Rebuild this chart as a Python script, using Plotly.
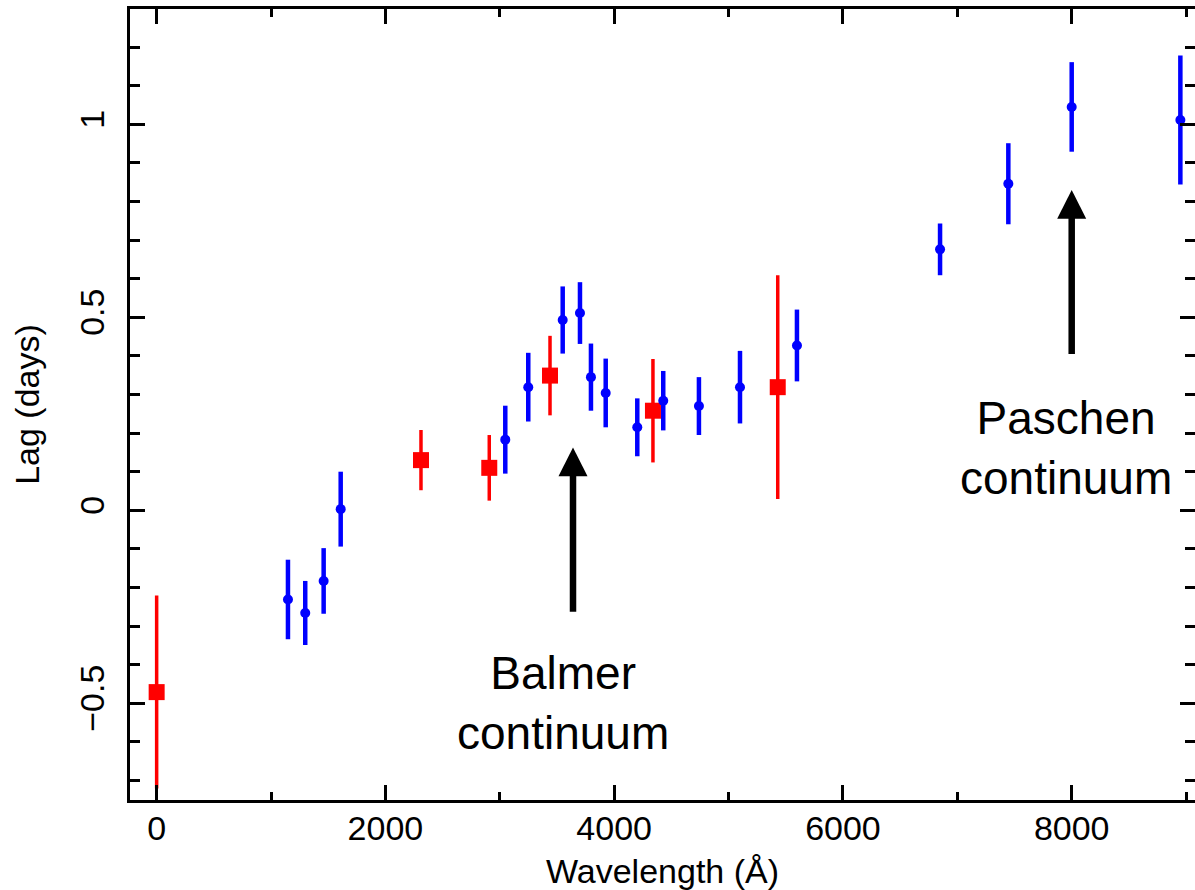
import plotly.graph_objects as go

# ---------------- data ----------------
red_wavelength = [0, 2311, 2908, 3439, 4339, 5430]
red_lag = [-0.471, 0.130, 0.110, 0.349, 0.258, 0.319]
red_err = [0.25, 0.078, 0.085, 0.103, 0.134, 0.290]

blue_wavelength = [1148, 1299, 1460, 1609, 3048, 3249, 3550, 3701, 3797, 3926,
                   4202, 4429, 4741, 5100, 5598, 6849, 7446, 8000, 8950]
blue_lag = [-0.231, -0.266, -0.183, 0.003, 0.183, 0.319, 0.493, 0.511, 0.345, 0.304,
            0.215, 0.284, 0.270, 0.319, 0.427, 0.676, 0.846, 1.045, 1.011]
blue_err = [0.103, 0.083, 0.085, 0.097, 0.088, 0.089, 0.087, 0.080, 0.087, 0.089,
            0.075, 0.077, 0.075, 0.094, 0.093, 0.067, 0.105, 0.116, 0.167]

x_range = [-233, 9078]
y_range = [-0.7505, 1.2987]

# annotation arrows: x, tail y, tip y
balmer_arrow = (3640, -0.263, 0.163)
paschen_arrow = (8000, 0.405, 0.830)
head_len = 0.0745      # in lag units
head_half = 127        # in wavelength units

balmer_text = (3552, -0.500, "Balmer<br>continuum")
paschen_text = (7950, 0.162, "Paschen<br>continuum")

FONT = "Liberation Sans, Arial, Helvetica, sans-serif"

fig = go.Figure()

fig.add_trace(go.Scatter(
    x=red_wavelength, y=red_lag, mode="markers",
    marker=dict(symbol="square", size=16, color="#ff0000"),
    error_y=dict(type="data", array=red_err, visible=True, color="#ff0000",
                 thickness=3.5, width=0),
    showlegend=False))

fig.add_trace(go.Scatter(
    x=blue_wavelength, y=blue_lag, mode="markers",
    marker=dict(symbol="circle", size=10, color="#0000ff"),
    error_y=dict(type="data", array=blue_err, visible=True, color="#0000ff",
                 thickness=4.5, width=0),
    showlegend=False))

for (ax, y0, y1) in (balmer_arrow, paschen_arrow):
    fig.add_shape(type="line", x0=ax, x1=ax, y0=y0, y1=y1 - head_len + 0.01,
                  line=dict(color="black", width=6.5))
    fig.add_shape(type="path",
                  path=f"M {ax - head_half},{y1 - head_len} L {ax + head_half},{y1 - head_len} L {ax},{y1} Z",
                  fillcolor="black", line=dict(color="black", width=0))

for (tx, ty, txt) in (balmer_text, paschen_text):
    fig.add_annotation(x=tx, y=ty, text=txt, showarrow=False,
                       font=dict(family=FONT, size=46, color="black"),
                       xanchor="center", yanchor="middle", align="center")

axis_common = dict(
    showline=True, linewidth=3, linecolor="black", mirror="allticks",
    ticks="inside", tickwidth=3, tickcolor="black",
    showgrid=False, zeroline=False,
    tickfont=dict(family=FONT, size=34, color="black"),
)

fig.update_xaxes(
    range=x_range, tick0=0, dtick=2000, ticklen=15,
    minor=dict(dtick=1000, tick0=0, ticks="inside", ticklen=8, tickwidth=3,
               tickcolor="black", showgrid=False),
    title=dict(text="Wavelength (Å)", font=dict(family=FONT, size=34, color="black"),
               standoff=16),
    ticklabelstandoff=-4,
    **axis_common)

fig.update_yaxes(
    range=y_range, tick0=0, dtick=0.5, ticklen=15, tickangle=-90,
    minor=dict(dtick=0.1, tick0=0, ticks="inside", ticklen=10, tickwidth=3,
               tickcolor="black", showgrid=False),
    title=dict(text="Lag (days)", font=dict(family=FONT, size=34, color="black"),
               standoff=24),
    ticklabelstandoff=9,
    **axis_common)

fig.update_layout(
    width=1195, height=890,
    margin=dict(l=130, r=0, t=9, b=90, autoexpand=False),
    paper_bgcolor="white", plot_bgcolor="white",
    font=dict(family=FONT, color="black"),
)

fig.write_html("out.html",
               config={"displayModeBar": False},
               post_script="document.body.style.margin='0';document.body.style.overflow='hidden';")
